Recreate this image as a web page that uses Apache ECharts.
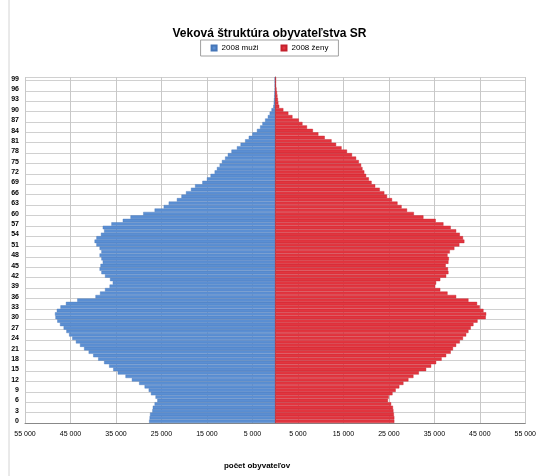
<!DOCTYPE html>
<html>
<head>
<meta charset="utf-8">
<script src="https://cdn.jsdelivr.net/npm/echarts@6/dist/echarts.min.js"></script>
<style>html,body{margin:0;padding:0;background:#fff}#c{width:539px;height:476px}</style>
</head>
<body>
<div id="c"></div>
<script>
var ages = [];
for (var i = 0; i < 100; i++) ages.push(String(i));

var males = [27700,27600,27500,27000,26900,26500,25900,26300,27300,27800,
28700,29900,31500,32900,34600,35600,36500,37600,38900,40000,
41000,42000,42900,43800,44600,45300,45900,46500,47300,47900,
48300,48400,48000,47200,46000,43500,39500,38500,37400,36400,
35700,36300,37400,38200,38600,38400,37900,38200,38600,38200,
38600,39300,39700,39300,38300,37600,37900,36000,33500,31800,
29000,26500,24500,23400,21600,20600,19600,18500,17600,16000,
15000,14200,13300,12800,12200,11700,11000,10400,9600,8400,
7600,6600,5800,5000,4000,3300,2800,2200,1600,1200,
800,400,300,250,200,150,100,100,100,100];

var females = [26200,26200,26100,26000,25900,25500,24800,25000,25800,26500,
27300,28200,29300,30400,31600,33200,34300,35400,36600,37600,
38600,39100,39800,40600,41300,42000,42500,43000,43600,44500,
46300,46400,45800,45000,44400,42500,39800,37900,36300,35200,
35400,36300,37600,38100,38000,37500,38100,38200,37900,38400,
39400,40500,41600,41300,40600,39800,38600,37000,35300,32600,
30500,29000,27800,26900,25700,24600,24000,23000,22000,21200,
20600,20000,19600,19200,18900,18400,17800,16900,15800,14600,
13400,12400,10900,9500,8300,7000,6000,5200,3800,2900,
1800,900,700,600,500,400,300,200,200,200];

var titleText = 'Veková štruktúra obyvateľstva SR';
var maleName = '2008 muži';
var femaleName = '2008 ženy';
var xName = 'počet obyvateľov';

function fmt(v){
  var a = Math.abs(Math.round(v));
  return String(a).replace(/\B(?=(\d{3})+(?!\d))/g, ' ');
}

var chart = echarts.init(document.getElementById('c'), null, {renderer:'canvas'});
chart.setOption({
  animation: false,
  backgroundColor: '#fff',
  title: {
    text: titleText, left: 'center', top: 23,
    textStyle: {fontFamily: 'Liberation Sans, Arial', fontSize: 12, fontWeight: 'bold', color: '#000'}
  },
  legend: {
    top: 40, left: 'center',
    data: [maleName, femaleName],
    itemWidth: 5, itemHeight: 5, itemGap: 22, icon: 'rect',
    borderColor: '#a0a0a0', borderWidth: 1, padding: [4, 10, 4, 10],
    textStyle: {fontFamily: 'Liberation Sans, Arial', fontSize: 8, color: '#000'}
  },
  grid: {left: 25, right: 11, top: 77, bottom: 53},
  xAxis: {
    type: 'value', min: -55000, max: 55000, interval: 10000,
    axisLine: {show: true, lineStyle: {color: '#888'}},
    axisTick: {show: false},
    splitLine: {show: true, lineStyle: {color: '#c8c8c8', width: 1}},
    axisLabel: {formatter: fmt, fontFamily: 'Liberation Sans, Arial', fontSize: 7, color: '#000', margin: 8}
  },
  yAxis: {
    type: 'category', data: ages,
    axisLine: {show: true, lineStyle: {color: '#888'}},
    axisTick: {show: false},
    axisLabel: {interval: 2, fontFamily: 'Liberation Sans, Arial', fontSize: 7, fontWeight: 'bold', color: '#000', margin: 6},
    splitLine: {show: true, interval: 2, lineStyle: {color: '#d0d0d0', width: 1}}
  },
  graphic: [
    {type: 'line', shape: {x1: 9, y1: 0, x2: 9, y2: 476}, style: {stroke: '#d4d4d4', lineWidth: 1}},
    {type: 'text', x: 257, y: 462, style: {text: xName, textAlign: 'center', fontFamily: 'Liberation Sans, Arial', fontSize: 8, fontWeight: 'bold', fill: '#000'}}
  ],
  series: [
    {
      name: maleName, type: 'bar', stack: 'p', barCategoryGap: '0%',
      data: males.map(function(v){return -v;}),
      itemStyle: {color: '#5b8fd3', borderColor: '#4676b8', borderWidth: 0.4}
    },
    {
      name: femaleName, type: 'bar', stack: 'p', barCategoryGap: '0%',
      data: females,
      itemStyle: {color: '#e2353f', borderColor: '#c4202c', borderWidth: 0.4}
    }
  ]
});
</script>
</body>
</html>
